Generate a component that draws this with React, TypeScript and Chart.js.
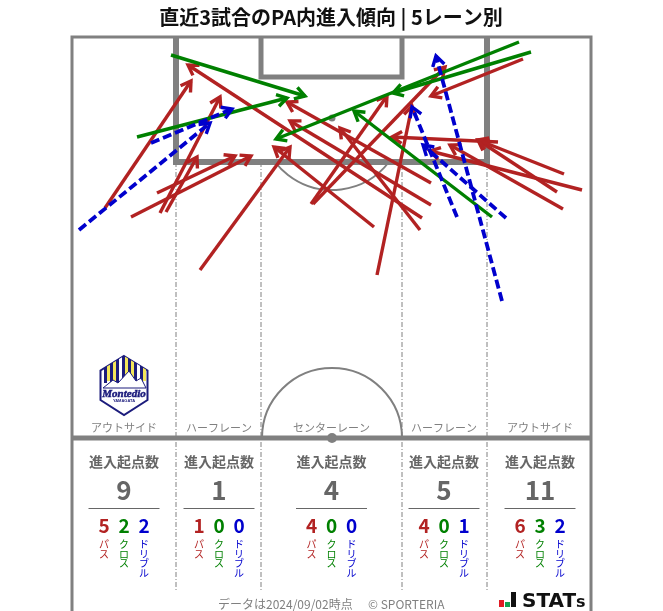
import React, { useEffect, useRef } from "react";
import { Chart, registerables } from "chart.js";

Chart.register(...registerables);

type P = [number, number];

const titleText = "直近3試合のPA内進入傾向 | 5レーン別";
const footerText = "データは2024/09/02時点";
const creditText = "© SPORTERIA";
const laneNames = ["アウトサイド", "ハーフレーン", "センターレーン", "ハーフレーン", "アウトサイド"];
const laneCentres = [124, 219, 331.5, 444, 540];
const laneTotals = [9, 1, 4, 5, 11];
const lanePasses = [5, 1, 4, 4, 6];
const laneCrosses = [2, 0, 0, 0, 3];
const laneDribbles = [2, 0, 0, 1, 2];
const kindNames = ["パス", "クロス", "ドリブル"];

const passFrom: P[] = [
  [105, 208], [131, 217], [157, 193], [160, 213], [166, 212], [200, 270],
  [374, 227], [311, 204], [313, 204], [377, 275],
  [431, 183], [431, 205], [422, 218], [420, 230],
  [564, 174], [557, 192], [563, 209], [582, 190], [523, 59], [498, 142],
];
const passTo: P[] = [
  [191, 81], [251, 156], [235, 156], [220, 97], [197, 157], [290, 147],
  [274, 147], [387, 96], [445, 67], [412, 106],
  [287, 102], [290, 121], [188, 65], [340, 128],
  [478, 140], [478, 140], [450, 145], [430, 151], [431, 96], [392, 137],
];
const crossFrom: P[] = [[171, 55], [137, 137], [519, 42], [531, 52], [492, 217]];
const crossTo: P[] = [[305, 96], [287, 98], [276, 139], [393, 93], [354, 111]];
const dribbleFrom: P[] = [[79, 230], [151, 143], [457, 217], [506, 218], [502, 301]];
const dribbleTo: P[] = [[210, 123], [232, 109], [412, 107], [423, 145], [436, 56]];

const outerLine: P[] = [[72, 630], [72, 37], [591, 37], [591, 630]];
const halfLine: P[] = [[72, 438], [591, 438]];
const penaltyBox: P[] = [[176, 37], [176, 162], [487, 162], [487, 37]];
const goalBox: P[] = [[261, 37], [261, 77], [402, 77], [402, 37]];
const laneLineXs = [176, 261, 402, 487];
const laneLineTop = 162;
const laneLineBottom = 591;
const spots: P[] = [[332, 118], [332, 438]];
const spotSizes = [3.5, 5];

const RED = "#b22222";
const GREEN = "#008000";
const BLUE = "#0000cd";
const GREY = "#808080";
const TEXT = "#666666";
const JP = '"Noto Sans CJK JP", "Noto Sans", sans-serif';

const pts = (l: P[]) => l.map(([x, y]) => ({ x, y }));

const arrow = (from: P, to: P, color: string, order: number, dash: number[] = []) => ({
  type: "line" as const,
  data: pts([from, to]),
  borderColor: color,
  borderWidth: dash.length ? 3.8 : 3.4,
  borderDash: dash,
  borderCapStyle: "butt" as const,
  pointRadius: 0,
  tension: 0,
  order,
  isArrow: true,
});

const pitch = (l: P[], width: number, dash: number[] = []) => ({
  type: "line" as const,
  data: pts(l),
  borderColor: GREY,
  borderWidth: width,
  borderDash: dash,
  borderCapStyle: "butt" as const,
  borderJoinStyle: "miter" as const,
  pointRadius: 0,
  tension: 0,
  order: 10,
});

const pitchAndText = {
  id: "pitchAndText",
  beforeDatasetsDraw(chart: any) {
    const { ctx, scales } = chart;
    const X = (v: number) => scales.x.getPixelForValue(v);
    const Y = (v: number) => scales.y.getPixelForValue(v);
    ctx.save();
    ctx.strokeStyle = GREY;
    ctx.lineWidth = 2;
    ctx.beginPath();
    ctx.arc(X(332), Y(438), X(402) - X(332), Math.PI, 2 * Math.PI);
    ctx.stroke();
    const a = Math.asin(44 / 72);
    ctx.beginPath();
    ctx.arc(X(332), Y(118), X(404) - X(332), a, Math.PI - a);
    ctx.stroke();

    ctx.textAlign = "center";
    ctx.textBaseline = "alphabetic";
    ctx.fillStyle = "#111111";
    ctx.font = `bold 20px ${JP}`;
    ctx.fillText(titleText, X(331), Y(25));

    laneCentres.forEach((c, i) => {
      ctx.fillStyle = "#808080";
      ctx.font = `11px ${JP}`;
      ctx.fillText(laneNames[i], X(c), Y(432));
      ctx.fillStyle = TEXT;
      ctx.font = `bold 14px ${JP}`;
      ctx.fillText("進入起点数", X(c), Y(467));
      ctx.font = `bold 26px ${JP}`;
      ctx.fillText(String(laneTotals[i]), X(c), Y(500));
      ctx.strokeStyle = TEXT;
      ctx.lineWidth = 1;
      ctx.beginPath();
      ctx.moveTo(X(c - 35.5), Y(508.5));
      ctx.lineTo(X(c + 35.5), Y(508.5));
      ctx.stroke();
      const vals = [lanePasses[i], laneCrosses[i], laneDribbles[i]];
      [RED, GREEN, BLUE].forEach((col, k) => {
        const cx = c + (k - 1) * 20;
        ctx.fillStyle = col;
        ctx.font = `bold 19px ${JP}`;
        ctx.fillText(String(vals[k]), X(cx), Y(533));
        ctx.font = `10px ${JP}`;
        Array.from(kindNames[k]).forEach((ch, j) => {
          ctx.fillText(ch, X(cx), Y(548 + j * 9.6));
        });
      });
    });

    ctx.fillStyle = "#808080";
    ctx.font = `12px ${JP}`;
    ctx.textAlign = "left";
    ctx.fillText(footerText, X(218), Y(609));
    ctx.fillText(creditText, X(368), Y(609));

    // club crest
    const hex: P[] = [[124, 356], [147.5, 370.5], [147.5, 400], [124, 415], [100.5, 400], [100.5, 370.5]];
    const path = (l: P[]) => {
      ctx.beginPath();
      l.forEach(([x, y], i) => (i ? ctx.lineTo(X(x), Y(y)) : ctx.moveTo(X(x), Y(y))));
      ctx.closePath();
    };
    path(hex);
    ctx.fillStyle = "#ffffff";
    ctx.fill();
    ctx.strokeStyle = "#1c1c7c";
    ctx.lineWidth = 2;
    ctx.stroke();
    ctx.save();
    path(hex);
    ctx.clip();
    [106, 112, 118, 124, 130, 136, 142].forEach((x, i) => {
      ctx.fillStyle = "#1c1c7c";
      ctx.fillRect(X(x - 2), Y(355), 3, 28);
      ctx.fillStyle = i % 3 === 2 ? "#ffffff" : "#f3e65a";
      ctx.fillRect(X(x + 1), Y(355), 3, 26);
    });
    ctx.restore();
    path([[103, 388], [113, 380], [118, 383], [129, 371], [136, 381], [141, 378], [146, 388]]);
    ctx.fillStyle = "#ffffff";
    ctx.fill();
    ctx.strokeStyle = "#1c1c7c";
    ctx.lineWidth = 1;
    ctx.stroke();
    ctx.fillStyle = "#1c1c7c";
    ctx.strokeStyle = "#1c1c7c";
    ctx.lineWidth = 0.5;
    ctx.textAlign = "center";
    ctx.font = 'italic bold 11px "Liberation Serif", serif';
    ctx.fillText("Montedio", X(124), Y(397));
    ctx.strokeText("Montedio", X(124), Y(397));
    ctx.font = 'bold 4px "Liberation Sans", sans-serif';
    ctx.fillText("YAMAGATA", X(124), Y(402));

    // STATs mark
    ctx.fillStyle = "#e01b24";
    ctx.fillRect(X(499), Y(600), 5, 7);
    ctx.fillStyle = "#12a150";
    ctx.fillRect(X(505), Y(602), 5, 5);
    ctx.fillStyle = "#111111";
    ctx.fillRect(X(511), Y(592), 5, 15);
    ctx.textAlign = "left";
    ctx.font = 'bold 20px "DejaVu Sans", sans-serif';
    ctx.fillText("STAT", X(522), Y(607));
    const w = ctx.measureText("STAT").width;
    ctx.font = 'bold 16px "DejaVu Sans", sans-serif';
    ctx.fillText("s", X(522) + w, Y(607));
    ctx.restore();
  },
  afterDatasetDraw(chart: any, args: any) {
    const ds = chart.data.datasets[args.index];
    if (!ds.isArrow) return;
    const { ctx, scales } = chart;
    const from = ds.data[0];
    const to = ds.data[1];
    const tx = scales.x.getPixelForValue(to.x);
    const ty = scales.y.getPixelForValue(to.y);
    const fx = scales.x.getPixelForValue(from.x);
    const fy = scales.y.getPixelForValue(from.y);
    const ang = Math.atan2(ty - fy, tx - fx);
    const len = 11.5;
    const spread = 0.55;
    ctx.save();
    ctx.strokeStyle = ds.borderColor;
    ctx.lineWidth = 3.4;
    ctx.setLineDash([]);
    ctx.lineJoin = "miter";
    ctx.beginPath();
    ctx.moveTo(tx - len * Math.cos(ang - spread), ty - len * Math.sin(ang - spread));
    ctx.lineTo(tx, ty);
    ctx.lineTo(tx - len * Math.cos(ang + spread), ty - len * Math.sin(ang + spread));
    ctx.stroke();
    ctx.restore();
  },
};

export default function App() {
  const ref = useRef<HTMLCanvasElement>(null);
  useEffect(() => {
    const datasets: any[] = [
      pitch(outerLine, 3),
      pitch(halfLine, 5),
      pitch(penaltyBox, 6),
      pitch(goalBox, 5),
      ...laneLineXs.map((x) =>
        pitch([[x, laneLineTop], [x, laneLineBottom]], 1, [5, 2, 1, 2])
      ),
      {
        type: "scatter",
        data: pts(spots),
        backgroundColor: GREY,
        borderWidth: 0,
        pointRadius: spotSizes,
        order: 9,
      },
      ...passFrom.map((f, i) => arrow(f, passTo[i], RED, 3)),
      ...crossFrom.map((f, i) => arrow(f, crossTo[i], GREEN, 2)),
      ...dribbleFrom.map((f, i) => arrow(f, dribbleTo[i], BLUE, 1, [9, 4])),
    ];
    const chart = new Chart(ref.current as HTMLCanvasElement, {
      type: "scatter",
      data: { datasets },
      options: {
        animation: false,
        responsive: false,
        layout: { padding: 0, autoPadding: false },
        clip: false,
        plugins: { legend: { display: false }, tooltip: { enabled: false }, title: { display: false } },
        scales: {
          x: { type: "linear", min: 0, max: 663, display: false },
          y: { type: "linear", min: 0, max: 611, reverse: true, display: false },
        },
      } as any,
      plugins: [pitchAndText],
    } as any);
    return () => chart.destroy();
  }, []);
  return (
    <div style={{ position: "absolute", left: 0, top: 0, width: 663, height: 611, background: "#fff", overflow: "hidden" }}>
      <canvas ref={ref} width={663} height={611} style={{ display: "block" }} />
    </div>
  );
}
